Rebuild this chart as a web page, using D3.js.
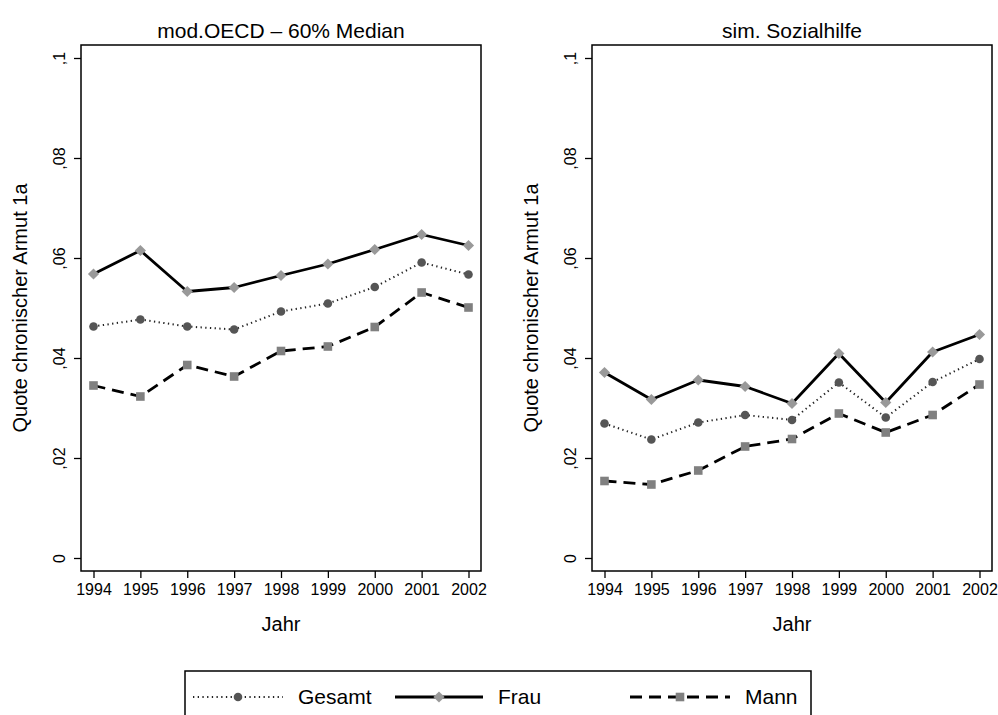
<!DOCTYPE html>
<html>
<head>
<meta charset="utf-8">
<script src="https://cdnjs.cloudflare.com/ajax/libs/d3/7.8.5/d3.min.js"></script>
<style>
	body { margin: 0; background: #fff; }
	text { font-family: "Liberation Sans", Arial, Helvetica, sans-serif; fill: #000; }
</style>
</head>
<body>
<div id="chart"></div>
<script>

	//data -----------------------------------------------------------------------------------
	var years = [1994, 1995, 1996, 1997, 1998, 1999, 2000, 2001, 2002];

	var oecdGesamt = [0.0463, 0.0477, 0.0463, 0.0457, 0.0493, 0.0509, 0.0542, 0.0591, 0.0567];
	var oecdFrau   = [0.0568, 0.0615, 0.0533, 0.0541, 0.0565, 0.0588, 0.0617, 0.0647, 0.0625];
	var oecdMann   = [0.0345, 0.0323, 0.0386, 0.0363, 0.0414, 0.0423, 0.0462, 0.0531, 0.0501];

	var sozGesamt = [0.0269, 0.0237, 0.0271, 0.0286, 0.0276, 0.0351, 0.0281, 0.0352, 0.0398];
	var sozFrau   = [0.0371, 0.0317, 0.0356, 0.0343, 0.0309, 0.0409, 0.0311, 0.0412, 0.0447];
	var sozMann   = [0.0154, 0.0147, 0.0175, 0.0223, 0.0238, 0.0289, 0.0251, 0.0286, 0.0347];

	var yTicks = [0, 0.02, 0.04, 0.06, 0.08, 0.1];
	var yTickLabels = ["0", ",02", ",04", ",06", ",08", ",1"];

	var panelTitles = ["mod.OECD \u2013 60% Median", "sim. Sozialhilfe"];
	var seriesNames = ["Gesamt", "Frau", "Mann"];
	var yTitle = "Quote chronischer Armut 1a";
	var xTitle = "Jahr";

	//Width and height
	var w = 998;
	var h = 715;

	var boxW = 400;
	var boxTop = 45;
	var boxBottom = 571;
	var panelLeft = [81, 592];

	//line styles per series
	var styles = {
		Gesamt: { stroke: "#222", width: 2, dash: "1.3,3.4", marker: "circle", fill: "#555" },
		Frau:   { stroke: "#000", width: 2.8, dash: null, marker: "diamond", fill: "#999" },
		Mann:   { stroke: "#000", width: 2.8, dash: "12,7", marker: "square", fill: "#808080" }
	};

	var svg = d3.select("#chart")
				.append("svg")
				.attr("width", w)
				.attr("height", h);

	var y = d3.scaleLinear().domain([0, 0.1]).range([558, 58]);

	function drawMarker(g, type, cx, cy, fill) {
		if (type == "circle") {
			g.append("circle").attr("cx", cx).attr("cy", cy).attr("r", 4.3).attr("fill", fill);
		}
		if (type == "diamond") {
			var s = 5.6;
			g.append("path")
			 .attr("d", "M" + cx + "," + (cy - s) + "L" + (cx + s) + "," + cy + "L" + cx + "," + (cy + s) + "L" + (cx - s) + "," + cy + "Z")
			 .attr("fill", fill);
		}
		if (type == "square") {
			g.append("rect").attr("x", cx - 4.3).attr("y", cy - 4.3).attr("width", 8.6).attr("height", 8.6).attr("fill", fill);
		}
	}

	function drawPanel(left, title, dataSets) {

		var x = d3.scaleLinear().domain([years[0], years[years.length - 1]]).range([left + 12.5, left + 387.5]);
		var g = svg.append("g");

		//title
		g.append("text")
		 .attr("x", left + boxW / 2)
		 .attr("y", 38)
		 .attr("text-anchor", "middle")
		 .style("font-size", "21px")
		 .text(title);

		//y axis
		var yAxis = g.append("g")
					 .attr("transform", "translate(" + left + ",0)")
					 .call(d3.axisLeft(y).tickValues(yTicks).tickSize(7).tickFormat(function(d, i) { return yTickLabels[i]; }));
		yAxis.select(".domain").remove();
		yAxis.selectAll("line").attr("stroke", "#000").attr("stroke-width", 1.3);
		yAxis.selectAll("text")
			 .attr("x", 0).attr("y", 0).attr("dy", null)
			 .attr("text-anchor", "middle")
			 .attr("transform", "translate(-16,0) rotate(-90)")
			 .style("font-size", "16px")
			 .style("font-family", "'Liberation Sans', Arial, sans-serif");

		g.append("text")
		 .attr("transform", "translate(" + (left - 61) + "," + ((boxTop + boxBottom) / 2) + ") rotate(-90)")
		 .attr("text-anchor", "middle")
		 .attr("dy", "0.35em")
		 .style("font-size", "20px")
		 .text(yTitle);

		//x axis
		var xAxis = g.append("g")
					 .attr("transform", "translate(0," + boxBottom + ")")
					 .call(d3.axisBottom(x).tickValues(years).tickSize(7).tickFormat(d3.format("d")));
		xAxis.select(".domain").remove();
		xAxis.selectAll("line").attr("stroke", "#000").attr("stroke-width", 1.3);
		xAxis.selectAll("text")
			 .attr("y", 24).attr("dy", null)
			 .style("font-size", "16px")
			 .style("font-family", "'Liberation Sans', Arial, sans-serif");

		g.append("text")
		 .attr("x", left + boxW / 2)
		 .attr("y", 631)
		 .attr("text-anchor", "middle")
		 .style("font-size", "20px")
		 .text(xTitle);

		//lines and markers
		dataSets.forEach(function(vals, k) {
			var st = styles[seriesNames[k]];
			var line = d3.line()
						 .x(function(d, i) { return x(years[i]); })
						 .y(function(d) { return y(d); });
			g.append("path")
			 .datum(vals)
			 .attr("d", line)
			 .attr("fill", "none")
			 .attr("stroke", st.stroke)
			 .attr("stroke-width", st.width)
			 .attr("stroke-dasharray", st.dash)
			 .attr("stroke-linejoin", "round");
			vals.forEach(function(v, i) {
				drawMarker(g, st.marker, x(years[i]), y(v), st.fill);
			});
		});

		//plot box
		g.append("rect")
		 .attr("x", left)
		 .attr("y", boxTop)
		 .attr("width", boxW)
		 .attr("height", boxBottom - boxTop)
		 .attr("fill", "none")
		 .attr("stroke", "#000")
		 .attr("stroke-width", 1.5);
	}

	drawPanel(panelLeft[0], panelTitles[0], [oecdGesamt, oecdFrau, oecdMann]);
	drawPanel(panelLeft[1], panelTitles[1], [sozGesamt, sozFrau, sozMann]);

	//legend ----------------------------------------------------------------------------------
	var legend = svg.append("g");
	legend.append("rect")
		  .attr("x", 185)
		  .attr("y", 671)
		  .attr("width", 626)
		  .attr("height", 60)
		  .attr("fill", "none")
		  .attr("stroke", "#000")
		  .attr("stroke-width", 1.5);

	var legendX = [193, 395, 630];
	var legendLen = [90, 88, 100];
	var legendY = 697;

	seriesNames.forEach(function(name, k) {
		var st = styles[name];
		legend.append("line")
			  .attr("x1", legendX[k])
			  .attr("x2", legendX[k] + legendLen[k])
			  .attr("y1", legendY)
			  .attr("y2", legendY)
			  .attr("stroke", st.stroke)
			  .attr("stroke-width", st.width)
			  .attr("stroke-dasharray", st.dash);
		drawMarker(legend, st.marker, legendX[k] + legendLen[k] / 2, legendY, st.fill);
		legend.append("text")
			  .attr("x", legendX[k] + legendLen[k] + 15)
			  .attr("y", legendY + 7)
			  .style("font-size", "21px")
			  .text(name);
	});

</script>
</body>
</html>
